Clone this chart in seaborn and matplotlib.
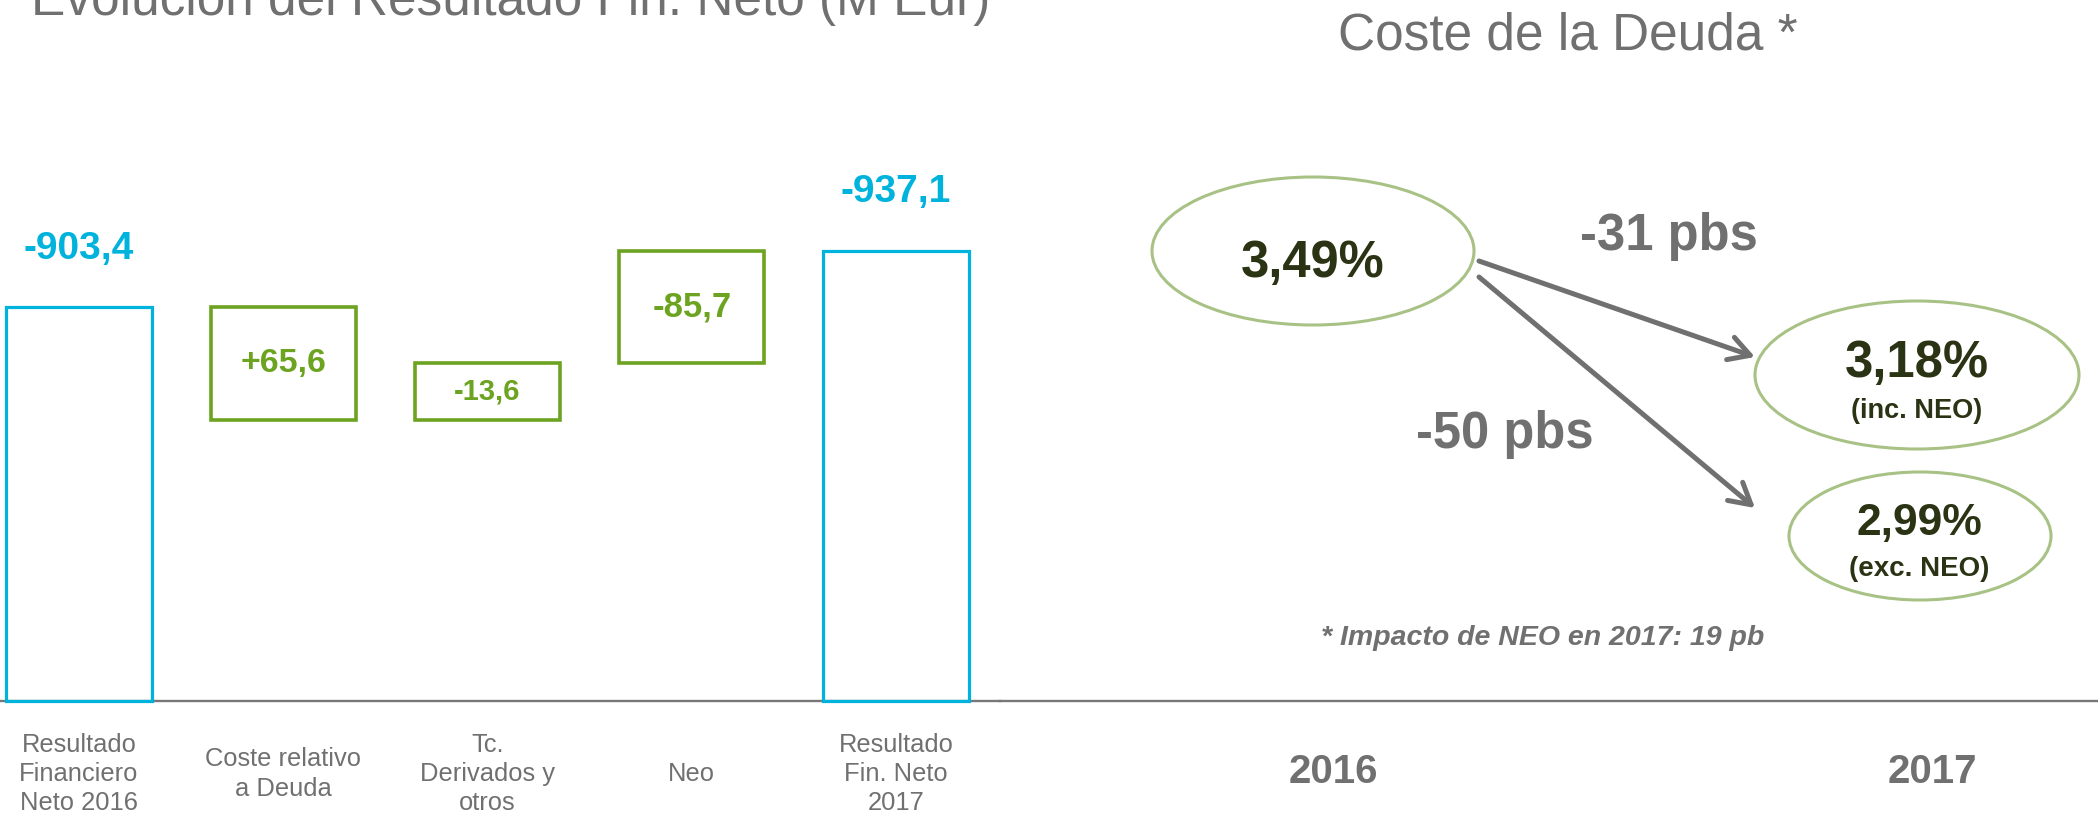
import numpy as np
import pandas as pd
import matplotlib
matplotlib.use("Agg")
import matplotlib.pyplot as plt
import seaborn as sns
from matplotlib.patches import Ellipse

# ---------------- data ----------------
categories = ["Resultado\nFinanciero\nNeto 2016", "Coste relativo\na Deuda",
              "Tc.\nDerivados y\notros", "Neo", "Resultado\nFin. Neto\n2017"]
start_total = -903.4
deltas = [65.6, -13.6, -85.7]
end_total = -937.1
years = ["2016", "2017"]
rate_2016 = 3.49
rate_2017_inc = 3.18
rate_2017_exc = 2.99
left_title = "Evolución del Resultado Fin. Neto (M Eur)"
right_title = "Coste de la Deuda *"

# ---------------- style ----------------
sns.set_theme(style="white")
plt.rcParams["font.family"] = ["Liberation Sans", "DejaVu Sans"]

BLUE = "#00B3DC"
GREEN = "#6CA320"
GRAY = "#707070"
DARK = "#2A3414"
ELL = "#A8C286"
LINE = "#777777"

W, H = 2098, 816
BASE_PX = 701          # baseline position from top (px)
STEP_PX = 56.25        # px per waterfall step
BASE_STEPS = 5         # steps between 0 and the lowest level

fig = plt.figure(figsize=(W / 100, H / 100), dpi=100)

# ---------------- left: waterfall ----------------
ax = fig.add_axes([0, (H - BASE_PX) / H, 1000 / W, BASE_PX / H])
ax.set_facecolor("none")

res = np.concatenate([[start_total], start_total + np.cumsum(deltas)])
mag = -res
before, after = mag[:-1], mag[1:]
box_bottom = np.minimum(before, after)
box_height = np.abs(after - before)

df_tot = pd.DataFrame({"cat": [categories[0], categories[-1]],
                       "val": [-start_total, -end_total]})
df_del = pd.DataFrame({"cat": categories[1:-1], "val": box_height})

bar_kw = dict(order=categories, fill=False, saturation=1, width=0.71,
              errorbar=None, ax=ax, zorder=3, clip_on=False)
sns.barplot(data=df_tot, x="cat", y="val", color=BLUE, linewidth=2.3, **bar_kw)
sns.barplot(data=df_del, x="cat", y="val", color=GREEN, linewidth=2.6,
            bottom=box_bottom, **bar_kw)

# stylised (step) scale of the waterfall, as in the original slide
levels = np.unique(np.round(mag, 6))
knots_v = np.concatenate([[0.0], levels])
knots_r = np.concatenate([[-BASE_STEPS], np.arange(len(levels), dtype=float)])


def _pw(v, xs, ys):
    v = np.asarray(v, dtype=float)
    out = np.interp(v, xs, ys)
    lo = (ys[1] - ys[0]) / (xs[1] - xs[0])
    hi = (ys[-1] - ys[-2]) / (xs[-1] - xs[-2])
    out = np.where(v < xs[0], ys[0] + (v - xs[0]) * lo, out)
    out = np.where(v > xs[-1], ys[-1] + (v - xs[-1]) * hi, out)
    return out


def fwd(v):
    return _pw(v, knots_v, knots_r)


def inv(r):
    return _pw(r, knots_r, knots_v)


ax.set_yscale("function", functions=(fwd, inv))
ax.set_ylim(0, float(inv(-BASE_STEPS + BASE_PX / STEP_PX)))
ax.set_xlim(-79 / 204.25, (1000 - 79) / 204.25)
ax.set_xlabel("")
ax.set_ylabel("")
ax.set_yticks([])


def fmt(v, sign=False):
    s = f"{v:+.1f}" if sign else f"{v:.1f}"
    return s.replace(".", ",")


for xi, v in [(0, start_total), (len(categories) - 1, end_total)]:
    ax.annotate(fmt(v), xy=(xi, -v), xytext=(0, 35), textcoords="offset points",
                ha="center", va="baseline", fontsize=28, fontweight="bold",
                color=BLUE)

delta_sizes = [24.5, 21, 25]
for i, d in enumerate(deltas):
    lo, hi = box_bottom[i], box_bottom[i] + box_height[i]
    ym = float(inv((fwd(lo) + fwd(hi)) / 2))
    ax.text(i + 1, ym, fmt(d, sign=True), ha="center", va="center",
            fontsize=delta_sizes[i], fontweight="bold", color=GREEN)

for s in ["top", "right", "left"]:
    ax.spines[s].set_visible(False)
ax.spines["bottom"].set_color(LINE)
ax.spines["bottom"].set_linewidth(1.7)
ax.tick_params(axis="x", length=0, pad=52.6, labelsize=18.4, labelcolor=GRAY)
ax.set_xticks(range(len(categories)))
ax.set_xticklabels(categories, va="center", linespacing=1.28)

# ---------------- right: cost of debt ----------------
axr = fig.add_axes([1000 / W, (H - BASE_PX) / H, 1098 / W, BASE_PX / H])
axr.set_facecolor("none")
axr.set_xlim(1000, W)
axr.set_ylim(BASE_PX, 0)

ellipses = [((1313, 251), 322, 148), ((1917, 375), 324, 148), ((1920, 536), 262, 128)]
for (c, w, h) in ellipses:
    axr.add_patch(Ellipse(c, w, h, fill=False, ec=ELL, lw=2.2))


def pct(v):
    return f"{v:.2f}%".replace(".", ",")


axr.text(1313, 277, pct(rate_2016), ha="center", va="baseline",
         fontsize=36.5, fontweight="bold", color=DARK)
axr.text(1917, 377, pct(rate_2017_inc), ha="center", va="baseline",
         fontsize=36.5, fontweight="bold", color=DARK)
axr.text(1917, 418, "(inc. NEO)", ha="center", va="baseline",
         fontsize=19.5, fontweight="bold", color=DARK)
axr.text(1919, 535, pct(rate_2017_exc), ha="center", va="baseline",
         fontsize=32, fontweight="bold", color=DARK)
axr.text(1919, 576, "(exc. NEO)", ha="center", va="baseline",
         fontsize=20, fontweight="bold", color=DARK)

d_inc = int(round((rate_2017_inc - rate_2016) * 100))
d_exc = int(round((rate_2017_exc - rate_2016) * 100))
neo = int(round((rate_2017_inc - rate_2017_exc) * 100))
axr.text(1669, 250, f"{d_inc} pbs", ha="center", va="baseline",
         fontsize=36.5, fontweight="bold", color=GRAY)
axr.text(1505, 448, f"{d_exc} pbs", ha="center", va="baseline",
         fontsize=36.5, fontweight="bold", color=GRAY)

arrow_kw = dict(arrowstyle="->,head_length=1.5,head_width=0.85", color=GRAY,
                lw=3.6, shrinkA=0, shrinkB=0, mutation_scale=10)
axr.annotate("", xy=(1755, 357), xytext=(1479, 261), arrowprops=arrow_kw)
axr.annotate("", xy=(1755, 508), xytext=(1479, 277), arrowprops=arrow_kw)

axr.text(1543, 645, f"* Impacto de NEO en 2017: {neo} pb", ha="center",
         va="baseline", fontsize=20.5, fontweight="bold", fontstyle="italic",
         color=GRAY)

for s in ["top", "right", "left"]:
    axr.spines[s].set_visible(False)
axr.spines["bottom"].set_color(LINE)
axr.spines["bottom"].set_linewidth(1.7)
axr.set_yticks([])
axr.set_xticks([1333, 1932])
axr.set_xticklabels(years, va="center", fontweight="bold")
axr.tick_params(axis="x", length=0, pad=51, labelsize=29, labelcolor=GRAY)

# ---------------- titles ----------------
fig.text(511 / W, 1 - 15 / H, left_title, ha="center", va="baseline",
         fontsize=37, color=GRAY)
fig.text(1568 / W, 1 - 49 / H, right_title, ha="center", va="baseline",
         fontsize=37, color=GRAY)

fig.savefig("out.png", dpi=100, facecolor="white")
